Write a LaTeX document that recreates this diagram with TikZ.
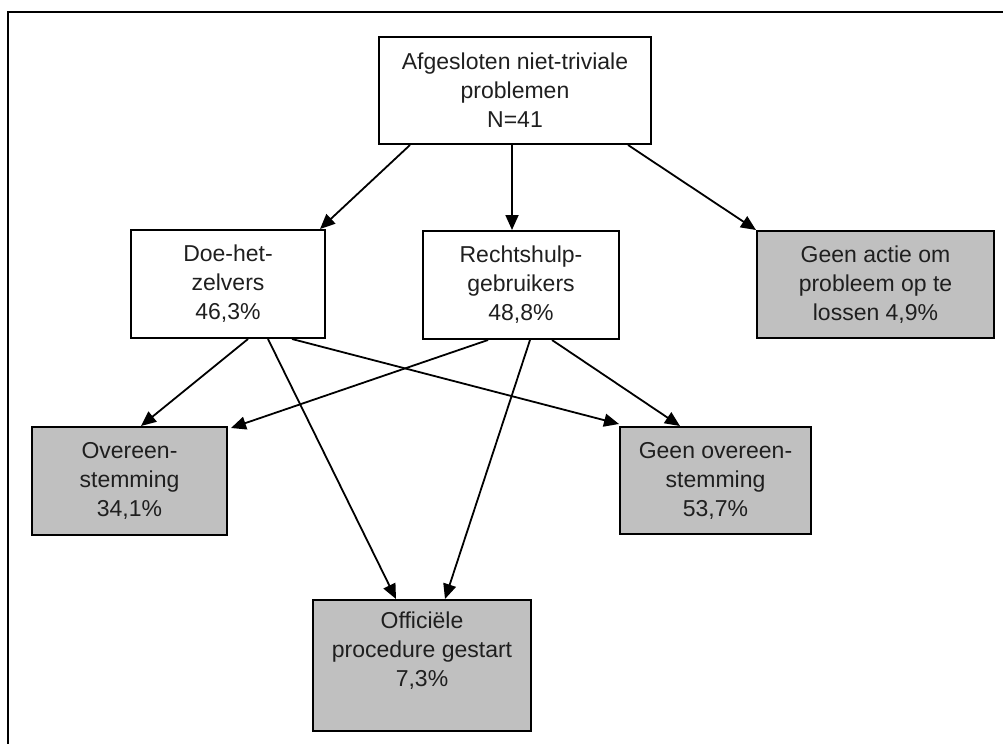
\documentclass[tikz,border=0pt]{standalone}
\usepackage{fontspec}
\setmainfont{Liberation Sans}
\usetikzlibrary{arrows.meta}
\definecolor{boxgray}{HTML}{C0C0C0}
\tikzset{
  box/.style={draw=black, line width=2pt, rectangle, inner sep=0pt, align=center,
    font=\fontsize{23}{29}\selectfont, text=black!88},
  grey/.style={box, fill=boxgray},
  conn/.style={line width=1.8pt, -{Triangle[length=15pt,width=13pt]}},
}
\begin{document}
\begin{tikzpicture}[x=1pt,y=-1pt]
\useasboundingbox (0,0) rectangle (1003,744);
\coordinate (fa) at (1003,12);
\coordinate (fb) at (8,12);
\coordinate (fc) at (8,744);
\draw[line width=2.5pt] (fa) -- (fb) -- (fc);

\node[box, minimum width=272pt, minimum height=107pt] (top) at (515,90.5)
  {Afgesloten niet-triviale\\problemen\\N=41};
\node[box, minimum width=194pt, minimum height=108pt] (doe) at (228,284)
  {Doe-het-\\zelvers\\46,3\%};
\node[box, minimum width=196pt, minimum height=108pt] (rechts) at (521,285)
  {Rechtshulp-\\gebruikers\\48,8\%};
\node[grey, minimum width=237pt, minimum height=107pt] (actie) at (875.5,284.5)
  {Geen actie om\\probleem op te\\lossen 4,9\%};
\node[grey, minimum width=195pt, minimum height=108pt] (over) at (129.5,481)
  {Overeen-\\stemming\\34,1\%};
\node[grey, minimum width=191pt, minimum height=107pt] (geen) at (715.5,480.5)
  {Geen overeen-\\stemming\\53,7\%};
\node[grey, minimum width=218pt, minimum height=131pt, text depth=33pt] (off) at (422,665.5)
  {Officiële\\procedure gestart\\7,3\%};

\draw[conn] ([xshift=-105pt]top.south) -- ([xshift=92pt]doe.north);
\draw[conn] ([xshift=-3pt]top.south) -- ([xshift=-9pt]rechts.north);
\draw[conn] ([xshift=113pt]top.south) -- (actie.north west);

\draw[conn] ([xshift=20pt]doe.south) -- ([xshift=11.5pt]over.north);
\draw[conn] ([xshift=40pt]doe.south) -- ([xshift=-26pt]off.north);
\draw[conn] ([xshift=64pt]doe.south) -- ([yshift=2pt]geen.north west);

\draw[conn] ([xshift=-33pt]rechts.south) -- ([xshift=3pt,yshift=-2pt]over.north east);
\draw[conn] ([xshift=9pt]rechts.south) -- ([xshift=23pt]off.north);
\draw[conn] ([xshift=31pt]rechts.south) -- ([xshift=-35.5pt]geen.north);
\end{tikzpicture}
\end{document}
